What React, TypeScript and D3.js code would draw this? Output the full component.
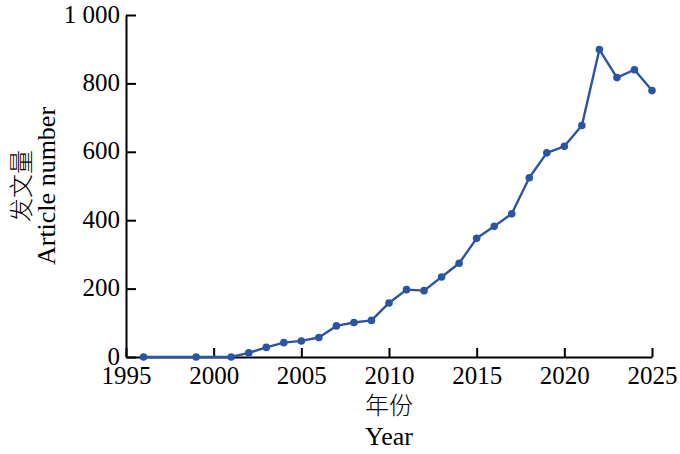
import { useEffect, useRef } from 'react'
import * as d3 from 'd3'

// publications per year
const years = [1996, 1999, 2001, 2002, 2003, 2004, 2005, 2006, 2007, 2008, 2009, 2010, 2011, 2012, 2013, 2014, 2015, 2016, 2017, 2018, 2019, 2020, 2021, 2022, 2023, 2024, 2025]
const counts = [0, 0, 0, 12, 28, 42, 47, 57, 91, 101, 107, 158, 197, 194, 234, 274, 347, 382, 419, 524, 597, 616, 677, 899, 817, 840, 779]
const xTicks = [1995, 2000, 2005, 2010, 2015, 2020, 2025]
const yTicks = [0, 200, 400, 600, 800, 1000]

const W = 680
const H = 454
const margin = { top: 15, right: 28, bottom: 97, left: 126 }
const color = '#2a55a2'
const serif = '"Liberation Serif", "Times New Roman", serif'
const cjk = '"Noto Sans CJK SC", sans-serif'

export default function App() {
  const svgRef = useRef<SVGSVGElement>(null)

  useEffect(() => {
    if (!svgRef.current) return
    const svg = d3.select(svgRef.current)
    svg.selectAll('*').remove()

    const innerWidth = W - margin.left - margin.right
    const innerHeight = H - margin.top - margin.bottom

    const x = d3.scaleLinear().domain([1995, 2025]).range([0, innerWidth])
    const y = d3.scaleLinear().domain([0, 1000]).range([innerHeight, 0])

    const g = svg.append('g')
      .attr('transform', `translate(${margin.left},${margin.top})`)

    // x axis, ticks point inward
    const xAxis = g.append('g')
      .attr('transform', `translate(0,${innerHeight})`)
      .call(d3.axisBottom(x)
        .tickValues(xTicks)
        .tickSize(-9)
        .tickSizeOuter(0)
        .tickPadding(9)
        .tickFormat(d => String(d)))
    xAxis.select('.domain').attr('stroke', '#000').attr('stroke-width', 2)
    xAxis.selectAll('.tick line').attr('stroke', '#000').attr('stroke-width', 2)
    xAxis.selectAll('.tick text')
      .attr('fill', '#000')
      .style('font-family', serif)
      .style('font-size', '25px')

    const yAxis = g.append('g')
      .call(d3.axisLeft(y)
        .tickValues(yTicks)
        .tickSize(-10)
        .tickSizeOuter(0)
        .tickPadding(6)
        .tickFormat(d => (+d >= 1000 ? d3.format(',')(+d).replace(',', ' ') : String(d))))
    yAxis.select('.domain').attr('stroke', '#000').attr('stroke-width', 2)
    yAxis.selectAll('.tick line').attr('stroke', '#000').attr('stroke-width', 2)
    yAxis.selectAll('.tick text')
      .attr('fill', '#000')
      .attr('dy', '0.28em')
      .style('font-family', serif)
      .style('font-size', '25px')

    const pts = years.map((yr, i) => ({ x: yr, y: counts[i] }))

    const line = d3.line<{ x: number; y: number }>()
      .x(d => x(d.x))
      .y(d => y(d.y))

    g.append('path')
      .datum(pts)
      .attr('fill', 'none')
      .attr('stroke', color)
      .attr('stroke-width', 2.4)
      .attr('stroke-linejoin', 'round')
      .attr('d', line)

    g.selectAll('.dot')
      .data(pts)
      .enter().append('circle')
      .attr('class', 'dot')
      .attr('cx', d => x(d.x))
      .attr('cy', d => y(d.y))
      .attr('r', 3.8)
      .attr('fill', color)

    // axis titles
    const cx = innerWidth / 2
    g.append('text')
      .attr('x', cx)
      .attr('y', innerHeight + 57)
      .attr('text-anchor', 'middle')
      .style('font-family', cjk)
      .style('font-weight', 300)
      .style('font-size', '24px')
      .text('年份')
    g.append('text')
      .attr('x', cx)
      .attr('y', innerHeight + 88)
      .attr('text-anchor', 'middle')
      .style('font-family', serif)
      .style('font-size', '26px')
      .text('Year')

    const cy = innerHeight / 2
    g.append('text')
      .attr('transform', `translate(${-96},${cy}) rotate(-90)`)
      .attr('text-anchor', 'middle')
      .style('font-family', cjk)
      .style('font-weight', 300)
      .style('font-size', '24px')
      .text('发文量')
    g.append('text')
      .attr('transform', `translate(${-71},${cy}) rotate(-90)`)
      .attr('text-anchor', 'middle')
      .style('font-family', serif)
      .style('font-size', '26px')
      .text('Article number')
  }, [])

  return (
    <svg
      ref={svgRef}
      width={W}
      height={H}
      style={{ position: 'absolute', left: 0, top: 0, background: '#fff' }}
    />
  )
}
